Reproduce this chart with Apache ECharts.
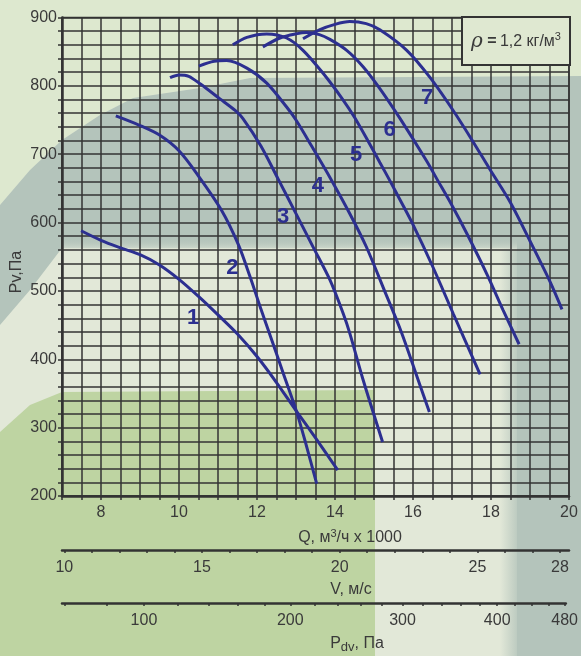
<!DOCTYPE html>
<html><head><meta charset="utf-8">
<script src="https://cdn.jsdelivr.net/npm/echarts@6/dist/echarts.min.js"></script>
<style>html,body{margin:0;padding:0;background:#e2e8d8}#c{width:581px;height:656px}</style>
</head><body><div id="c"></div>
<script>
// ---- data ----
const Q_LABELS = [8, 10, 12, 14, 16, 18, 20];
const PV_LABELS = [200, 300, 400, 500, 600, 700, 800, 900];
const V_TICKS = [10,11,12,13,14,15,16,17,18,19,20,21,22,23,24,25,26,27,28];
const V_LABELS = [10, 15, 20, 25, 28];
const PDV_TICKS = [60,80,100,120,140,160,180,200,220,240,260,280,300,320,340,360,380,400,420,440,460,480];
const PDV_LABELS = [100, 200, 300, 400, 480];
const V_MIN = 9.916, V_MAX = 28.327;   // V range spanned by the Q range 7..20
const RHO_HALF = 0.6;                  // Pdv = rho/2 * V^2, rho = 1.2

const c1Q = [7.49, 8.0, 8.5, 9.0, 9.5, 10.0, 10.5, 11.0, 11.5, 12.0, 12.5, 13.0, 13.5, 14.07];
const c1P = [588, 574, 563, 553, 538, 517, 492, 465, 437, 404, 366, 325, 285, 238];
const c2Q = [8.38, 9.0, 9.5, 10.0, 10.5, 11.09, 11.52, 11.82, 12.08, 12.38, 12.67, 13.0, 13.25, 13.53];
const c2P = [756, 742, 728, 705, 668, 618, 568, 521, 477, 428, 380, 326, 277, 218];
const c3Q = [9.77, 10.0, 10.25, 10.54, 11.05, 11.44, 11.64, 12.1, 12.54, 13.0, 13.44, 13.87, 14.21, 14.38, 14.72, 15.22];
const c3P = [812, 816, 814, 803, 781, 764, 752, 712, 664, 613, 564, 516, 467, 438, 370, 279];
const c4Q = [10.51, 10.9, 11.22, 11.74, 12.25, 12.76, 13.0, 13.4, 13.87, 14.38, 14.8, 15.25, 15.7, 16.13, 16.42];
const c4P = [829, 836, 837, 826, 804, 769, 750, 712, 666, 613, 565, 503, 440, 370, 323];
const c5Q = [11.38, 11.74, 12.25, 12.76, 13.18, 13.7, 14.2, 14.5, 14.85, 15.15, 15.41, 15.67, 16.0, 16.51, 17.03, 17.72];
const c5P = [860, 871, 876, 870, 852, 818, 780, 754, 719, 688, 661, 633, 597, 535, 467, 378];
const c6Q = [12.15, 12.59, 13.0, 13.27, 13.6, 13.87, 14.3, 14.72, 15.15, 15.67, 16.35, 16.64, 16.99, 17.38, 17.9, 18.31, 18.72];
const c6P = [857, 870, 876, 878, 875, 868, 852, 828, 796, 752, 690, 661, 626, 584, 524, 472, 422];
const c7Q = [13.18, 13.6, 14.0, 14.38, 14.8, 15.15, 15.84, 16.44, 17.03, 17.5, 17.97, 18.49, 19.0, 19.51, 19.82];
const c7P = [869, 882, 890, 894, 891, 882, 852, 812, 764, 722, 678, 630, 573, 514, 473];
const CURVES = [[c1Q, c1P], [c2Q, c2P], [c3Q, c3P], [c4Q, c4P], [c5Q, c5P], [c6Q, c6P], [c7Q, c7P]];

const LABEL_NAMES = ['1', '2', '3', '4', '5', '6', '7'];
const LABEL_Q = [10.36, 11.37, 12.67, 13.56, 14.54, 15.4, 16.36];
const LABEL_P = [460, 533, 608, 653, 699, 735, 782];

// ---- styles ----
const FONT = "'Liberation Sans',Arial,sans-serif";
const TXT = '#3a3a3a';
const LINE = '#333333';
const BLUE = '#2c2f90';

const chart = echarts.init(document.getElementById('c'), null, {renderer: 'canvas'});

const lineSeries = CURVES.map((c, k) => ({
  type: 'line', xAxisIndex: 0, yAxisIndex: 0,
  data: c[0].map((q, i) => [q, c[1][i]]),
  smooth: 0.3, showSymbol: false, symbol: 'none',
  lineStyle: {color: BLUE, width: 3}, z: 5, silent: true
}));

const labelSeries = {
  type: 'scatter', xAxisIndex: 0, yAxisIndex: 0, symbolSize: 0,
  itemStyle: {color: BLUE, opacity: 1}, silent: true, z: 6,
  data: LABEL_NAMES.map((n, i) => ({name: n, value: [LABEL_Q[i], LABEL_P[i]]})),
  label: {show: true, position: 'inside', formatter: p => p.name, color: BLUE, opacity: 1,
    textBorderWidth: 0, fontFamily: FONT, fontWeight: 'bold', fontSize: 22}
};

const axisLabelBase = {color: TXT, fontFamily: FONT, fontSize: 16};

const option = {
  animation: false,
  backgroundColor: '#e2e8d8',
  graphic: [
    // background decorations
    {type: 'polygon', z: -100, silent: true, shape: {points: [[0,0],[581,0],[581,76],[250,78],[200,88],[133,98],[100,115],[62,140],[30,170],[0,205]]}, style: {fill: '#dde8cf'}},
    {type: 'polygon', z: -99, silent: true, shape: {points: [[0,205],[30,170],[62,140],[100,115],[133,98],[200,88],[250,78],[581,76],[581,656],[517,656],[517,248],[62,248],[30,290],[0,325]]}, style: {fill: '#b4c4bb'}},
    {type: 'rect', z: -98, silent: true, shape: {x: 500, y: 248, width: 17, height: 408}, style: {fill: new echarts.graphic.LinearGradient(0,0,1,0,[{offset:0,color:'rgba(180,196,187,0)'},{offset:1,color:'rgba(180,196,187,0.8)'}])}},
    {type: 'polygon', z: -99, silent: true, shape: {points: [[0,432],[30,405],[62,392],[375,390],[375,656],[0,656]]}, style: {fill: '#bed4a2'}},
    {type: 'rect', z: -98, silent: true, shape: {x: 62, y: 238, width: 455, height: 12}, style: {fill: new echarts.graphic.LinearGradient(0,0,0,1,[{offset:0,color:'rgba(180,196,187,0)'},{offset:1,color:'rgba(226,232,216,0.7)'}])}},
    // density box
    {type: 'rect', z: 10, shape: {x: 462, y: 17, width: 108, height: 48}, style: {fill: '#dfe8d1', stroke: LINE, lineWidth: 2}},
    {type: 'text', z: 11, x: 516, y: 42, style: {
      text: '{r|ρ}{e| =} {t|1,2 кг/м}{s|3}', textAlign: 'center', textVerticalAlign: 'middle',
      rich: {
        r: {fontFamily: "'DejaVu Serif','Liberation Serif',serif", fontStyle: 'italic', fontSize: 20, fill: TXT, lineHeight: 22},
        e: {fontFamily: FONT, fontWeight: 'bold', fontSize: 16, fill: TXT, lineHeight: 22},
        t: {fontFamily: FONT, fontSize: 16, fill: TXT, lineHeight: 22},
        s: {fontFamily: FONT, fontSize: 11, fill: TXT, lineHeight: 22, verticalAlign: 'top', padding: [0, 0, 8, 0]}
      }}},
    // axis titles
    {type: 'text', z: 10, x: 17, y: 272, rotation: Math.PI / 2, style: {text: 'Pv,Па', fill: TXT, font: "16px " + FONT, textAlign: 'center', textVerticalAlign: 'middle'}},
    {type: 'text', z: 10, x: 350, y: 538, style: {
      text: '{a|Q, м}{s|3}{a|/ч x 1000}', textAlign: 'center', textVerticalAlign: 'middle',
      rich: {a: {fontFamily: FONT, fontSize: 16, fill: TXT, lineHeight: 20},
             s: {fontFamily: FONT, fontSize: 11, fill: TXT, lineHeight: 20, verticalAlign: 'top', padding: [0, 0, 6, 0]}}}},
    {type: 'text', z: 10, x: 351, y: 590, style: {text: 'V, м/с', fill: TXT, font: "16px " + FONT, textAlign: 'center', textVerticalAlign: 'middle'}},
    {type: 'text', z: 10, x: 357, y: 644, style: {
      text: '{a|P}{b|dv}{a|, Па}', textAlign: 'center', textVerticalAlign: 'middle',
      rich: {a: {fontFamily: FONT, fontSize: 16, fill: TXT, lineHeight: 20},
             b: {fontFamily: FONT, fontSize: 13, fill: TXT, lineHeight: 13, verticalAlign: 'bottom'}}}}
  ],
  grid: [
    {left: 62, top: 17.5, width: 507, height: 478.5, show: true, borderColor: LINE, borderWidth: 1.5, backgroundColor: 'transparent'},
    {left: 62, top: 549, width: 507, height: 1},
    {left: 62, top: 602, width: 507, height: 1}
  ],
  xAxis: [
    {gridIndex: 0, type: 'value', min: 7, max: 20, interval: 0.5,
     axisLine: {show: true, onZero: false, lineStyle: {color: LINE, width: 2.5}},
     axisTick: {show: true, length: 4, lineStyle: {color: LINE, width: 1.5}},
     axisLabel: Object.assign({}, axisLabelBase, {margin: 9, showMinLabel: true, showMaxLabel: true,
       formatter: v => Q_LABELS.includes(v) ? String(v) : ''}),
     splitLine: {show: true, lineStyle: {color: LINE, width: 1.5}}},
    {gridIndex: 1, type: 'value', min: V_MIN, max: V_MAX, position: 'bottom',
     axisLine: {show: true, onZero: false, lineStyle: {color: LINE, width: 2.5}},
     axisTick: {show: true, length: 3, customValues: V_TICKS, lineStyle: {color: LINE, width: 1.5}},
     axisLabel: Object.assign({}, axisLabelBase, {margin: 10, customValues: V_LABELS, formatter: v => String(v)}),
     splitLine: {show: false}},
    {gridIndex: 2, type: 'value', min: V_MIN, max: V_MAX, position: 'bottom',
     axisLine: {show: true, onZero: false, lineStyle: {color: LINE, width: 2.5}},
     axisTick: {show: true, length: 3, customValues: PDV_TICKS.map(p => Math.sqrt(p / RHO_HALF)), lineStyle: {color: LINE, width: 1.5}},
     axisLabel: Object.assign({}, axisLabelBase, {margin: 10, customValues: PDV_LABELS.map(p => Math.sqrt(p / RHO_HALF)),
       formatter: v => String(Math.round(RHO_HALF * v * v))}),
     splitLine: {show: false}}
  ],
  yAxis: [
    {gridIndex: 0, type: 'value', min: 200, max: 900, interval: 20,
     axisLine: {show: true, onZero: false, lineStyle: {color: LINE, width: 2.5}},
     axisTick: {show: true, length: 4, lineStyle: {color: LINE, width: 1.5}},
     axisLabel: Object.assign({}, axisLabelBase, {margin: 5, showMinLabel: true, showMaxLabel: true,
       formatter: v => PV_LABELS.includes(v) ? String(v) : ''}),
     splitLine: {show: true, lineStyle: {color: LINE, width: 1.5}}},
    {gridIndex: 1, type: 'value', show: false},
    {gridIndex: 2, type: 'value', show: false}
  ],
  series: lineSeries.concat([labelSeries])
};
chart.setOption(option);
</script></body></html>
